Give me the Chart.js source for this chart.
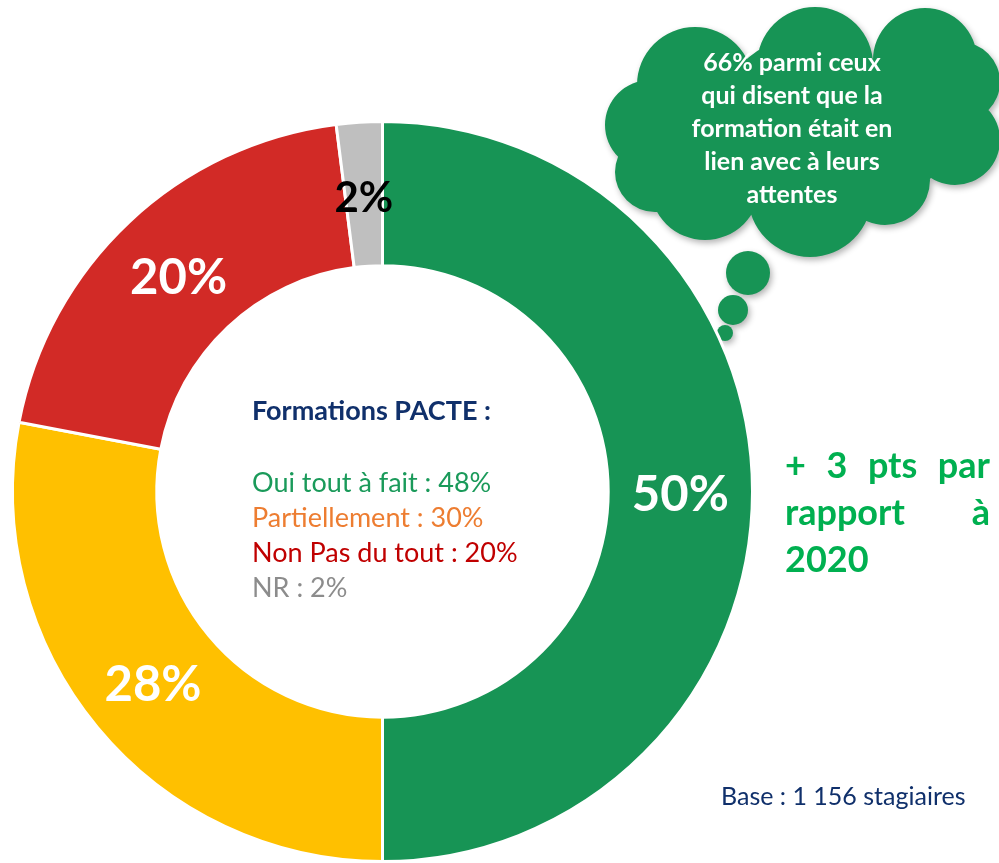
<!DOCTYPE html>
<html lang="fr">
<head>
<meta charset="utf-8">
<script src="https://cdn.jsdelivr.net/npm/chart.js@4"></script>
<style>
  html, body { margin: 0; padding: 0; background: #fff; }
  body { width: 999px; height: 863px; position: relative; overflow: hidden; font-family: Lato, "Open Sans", sans-serif; }
  #chart { position: absolute; left: 0; top: 0; }
  .note { position: absolute; white-space: nowrap; }
  #center-title { left: 252px; top: 394px; font-size: 27px; line-height: 32px; font-weight: bold; color: #10306b; }
  #center-list { left: 252px; top: 464px; font-size: 27px; line-height: 35px; }
  #cloud-text { left: 652px; top: 45px; width: 280px; text-align: center; color: #fff; font-weight: bold; font-size: 25px; line-height: 33px; white-space: normal; }
  #side-note { left: 785px; top: 441px; width: 205px; text-align: justify; color: #00b050; font-weight: bold; font-size: 36px; line-height: 47px; white-space: normal; }
  #base { left: 721px; top: 780px; font-size: 25px; line-height: 30px; color: #10306b; }
</style>
</head>
<body>
<canvas id="chart" width="999" height="863"></canvas>
<div class="note" id="center-title"></div>
<div class="note" id="center-list"></div>
<div class="note" id="cloud-text"></div>
<div class="note" id="side-note"></div>
<div class="note" id="base"></div>

<script>
// ── Data ─────────────────────────────────────────────
const categories = ['Oui tout à fait', 'Partiellement', 'Non pas du tout', 'NR'];
const values     = [50, 28, 20, 2];
const sliceColors = ['#179455', '#ffc000', '#d22a26', '#bfbfbf'];
const labelColors = ['#ffffff', '#ffffff', '#ffffff', '#000000'];

const legendTitle = 'Formations PACTE :';
const legendLines = ['Oui tout à fait : 48%', 'Partiellement : 30%', 'Non Pas du tout : 20%', 'NR : 2%'];
const legendColors = ['#1a9a5a', '#ed7d31', '#c00000', '#8c8c8c'];

const cloudLines = ['66% parmi ceux', 'qui disent que la', 'formation était en', 'lien avec à leurs', 'attentes'];
const sideNote  = '+ 3 pts par rapport à 2020';
const baseText  = 'Base : 1 156 stagiaires';

// ── Text blocks ──────────────────────────────────────
document.getElementById('center-title').textContent = legendTitle;
document.getElementById('center-list').innerHTML = legendLines
  .map((t, i) => `<div style="color:${legendColors[i]}">${t}</div>`).join('');
document.getElementById('cloud-text').innerHTML = cloudLines.join('<br>');
document.getElementById('side-note').textContent = sideNote;
document.getElementById('base').textContent = baseText;

// ── Thought cloud behind the note ────────────────────
const cloudPlugin = {
  id: 'cloud',
  beforeDraw(chart) {
    const ctx = chart.ctx;
    const lobes = [
      [810, 130, 95],
      [695, 85, 58], [815, 65, 58], [925, 60, 52], [960, 82, 40],
      [955, 140, 45], [885, 180, 45], [810, 195, 62], [705, 185, 55],
      [655, 172, 40], [650, 125, 45], [880, 130, 70], [740, 140, 70]
    ];
    const bubbles = [[748, 273, 22], [733, 310, 15], [725, 333, 8]];
    ctx.save();
    ctx.fillStyle = '#179455';
    ctx.shadowColor = 'rgba(0,0,0,0.3)';
    ctx.shadowBlur = 6;
    ctx.shadowOffsetX = 2;
    ctx.shadowOffsetY = 3;
    ctx.beginPath();
    lobes.forEach(([x, y, r]) => { ctx.moveTo(x + r, y); ctx.arc(x, y, r, 0, Math.PI * 2); });
    ctx.fill();
    bubbles.forEach(([x, y, r]) => { ctx.beginPath(); ctx.arc(x, y, r, 0, Math.PI * 2); ctx.fill(); });
    ctx.restore();
  }
};

// ── Percent labels in the ring ───────────────────────
const sliceLabels = {
  id: 'sliceLabels',
  afterDatasetsDraw(chart) {
    const ctx = chart.ctx;
    const meta = chart.getDatasetMeta(0);
    ctx.save();
    ctx.textAlign = 'center';
    ctx.textBaseline = 'middle';
    meta.data.forEach((arc, i) => {
      const p = arc.tooltipPosition();
      const big = values[i] >= 10;
      ctx.font = `bold ${big ? 49 : 42}px Lato, "Open Sans", sans-serif`;
      ctx.fillStyle = labelColors[i];
      ctx.fillText(values[i] + '%', p.x, p.y + 4);
    });
    ctx.restore();
  }
};

new Chart(document.getElementById('chart'), {
  type: 'doughnut',
  data: {
    labels: categories,
    datasets: [{
      data: values,
      backgroundColor: sliceColors,
      borderColor: '#ffffff',
      borderWidth: 3
    }]
  },
  options: {
    responsive: false,
    animation: false,
    cutout: '61%',
    layout: { padding: { left: 11, right: 245, top: 120, bottom: 0 } },
    plugins: { legend: { display: false }, tooltip: { enabled: false } }
  },
  plugins: [cloudPlugin, sliceLabels]
});
</script>
</body>
</html>
